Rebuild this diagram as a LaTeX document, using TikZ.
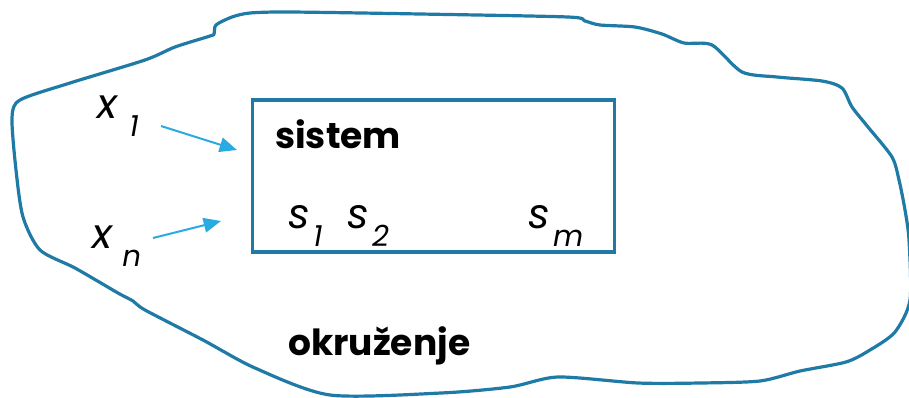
\documentclass[tikz,border=0pt]{standalone}
\usepackage{fontspec}
\setmainfont{Poppins}
\usetikzlibrary{arrows.meta}
\definecolor{edgeblue}{HTML}{1F7BA6}
\definecolor{arrowblue}{HTML}{29ABE2}
\newcommand{\var}[3][0.2em]{{\itshape #2\hspace{#1}\raisebox{-0.45em}{\fontsize{22}{24}\selectfont #3}}}
\tikzset{
 outline/.style={draw=edgeblue,line width=2.4pt,line join=round},
 sysbox/.style={draw=edgeblue,line width=2.4pt,minimum width=272pt,minimum height=114pt,inner sep=0},
 inflow/.style={draw=arrowblue,line width=1.5pt,-{Triangle[length=13pt,width=11pt]}},
 varlabel/.style={anchor=base west,inner sep=0,font=\fontsize{31}{34}\selectfont},
 title/.style={anchor=base west,inner sep=0,font=\fontsize{27}{32}\selectfont\bfseries}
}
\begin{document}
\begin{tikzpicture}[x=0.75pt,y=-0.75pt]
\path[use as bounding box] (0,0) rectangle (909,397);
\draw[outline] plot[smooth cycle,tension=0.45] coordinates {
 (214,34) (216,25) (232,17) (250,13) (290,12) (420,14) (568,17) (585,21) (600,25)
 (635,27) (662,34) (684,43) (712,45) (742,72) (777,77) (822,81) (842,88) (852,107)
 (868,127) (892,157) (899,180) (905,210) (909,240) (910,300) (895,332) (870,350)
 (846,362) (800,371) (760,381) (700,383) (638,383) (558,377) (510,387) (441,393)
 (330,395) (255,368) (203,340) (145,310) (133,301) (118,293) (75,268) (40,250)
 (23,217) (16,170) (12,118) (20,100) (70,83) (145,60) (175,47) (210,36)};
\node[sysbox] (sys) at (433.5,176) {};
\node[title] (sistem) at (275,148) {sistem};
\node[varlabel] (s1) at (288,228) {\var[0.08em]{s}{1}};
\node[varlabel] (s2) at (347,228) {\var[0.08em]{s}{2}};
\node[varlabel] (sm) at (528,228) {\var[0.08em]{s}{m}};
\node[varlabel] (x1) at (97,118) {\var[0.3em]{x}{1}};
\node[varlabel] (xn) at (92,248) {\var[0.25em]{x}{n}};
\node[title] (okr) at (288,355) {okruženje};
\coordinate (in1) at (237,150);
\coordinate (inn) at (221,221);
\coordinate (out1) at (161,126);
\coordinate (outn) at (153,238);
\draw[inflow] (out1) -- (in1);
\draw[inflow] (outn) -- (inn);
\end{tikzpicture}
\end{document}
